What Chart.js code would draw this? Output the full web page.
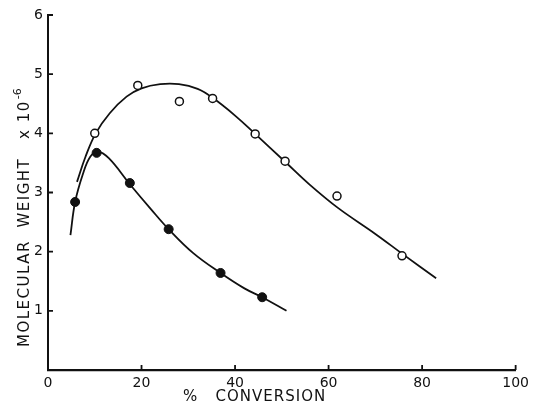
<!DOCTYPE html>
<html><head><meta charset="utf-8">
<script src="https://cdn.jsdelivr.net/npm/chart.js@4/dist/chart.umd.min.js"></script>
<style>html,body{margin:0;padding:0;background:#fff}#wrap{width:534px;height:409px}</style>
</head><body><div id="wrap"><canvas id="c" width="534" height="409"></canvas></div>
<script>
// Open circles (measured points)
const openConversion = [10.0, 19.2, 28.1, 35.2, 44.3, 50.7, 61.8, 75.7];
const openMW = [4.00, 4.81, 4.54, 4.59, 3.99, 3.53, 2.94, 1.93];
// Filled circles (measured points)
const filledConversion = [5.8, 10.4, 17.5, 25.8, 36.9, 45.8];
const filledMW = [2.84, 3.67, 3.16, 2.38, 1.64, 1.23];
// Smooth drawn curves
const openCurveX = [6.2, 8, 10.2, 13.2, 16.8, 20, 24, 28, 32, 35.2, 40, 44.3, 50.7, 56, 62, 70, 76, 83];
const openCurveY = [3.18, 3.60, 4.00, 4.34, 4.62, 4.76, 4.83, 4.83, 4.75, 4.60, 4.30, 3.99, 3.52, 3.13, 2.74, 2.30, 1.95, 1.55];
const filledCurveX = [4.8, 5.8, 7.5, 9, 10.6, 13, 17.5, 22, 25.8, 31, 36.9, 42, 45.8, 51];
const filledCurveY = [2.28, 2.84, 3.32, 3.60, 3.69, 3.58, 3.14, 2.72, 2.38, 1.98, 1.64, 1.38, 1.23, 1.00];
// Axis ticks
const xTicks = [0, 20, 40, 60, 80, 100];
const yTicks = [1, 2, 3, 4, 5, 6];
const xTitle = '%   CONVERSION';
const yTitleMain = 'MOLECULAR  WEIGHT   x 10';
const yTitleSup = '-6';

const toPts = (xs, ys) => xs.map((x, i) => ({x: x, y: ys[i]}));

const FONT = '"DejaVu Sans", sans-serif';

const decor = {
  id: 'decor',
  afterDraw(chart) {
    const ctx = chart.ctx;
    const xs = chart.scales.x, ys = chart.scales.y;
    const a = chart.chartArea;
    ctx.save();
    ctx.strokeStyle = '#111';
    ctx.lineWidth = 1.8;
    ctx.beginPath();
    xTicks.forEach(v => {
      if (v === 0) return;
      const px = xs.getPixelForValue(v);
      ctx.moveTo(px, a.bottom);
      ctx.lineTo(px, a.bottom - 5);
    });
    yTicks.forEach(v => {
      const py = ys.getPixelForValue(v);
      ctx.moveTo(a.left, py);
      ctx.lineTo(a.left + 5, py);
    });
    ctx.stroke();
    // x title
    ctx.fillStyle = '#111';
    ctx.font = '15px ' + FONT;
    ctx.letterSpacing = '1px';
    ctx.textAlign = 'left';
    ctx.textBaseline = 'middle';
    ctx.fillText(xTitle, 183, 397);
    // y title rotated
    ctx.translate(25, 347);
    ctx.rotate(-Math.PI / 2);
    ctx.font = '15px ' + FONT;
    ctx.letterSpacing = '1.5px';
    ctx.fillText(yTitleMain, 0, 0);
    const w = ctx.measureText(yTitleMain).width;
    ctx.font = '11px ' + FONT;
    ctx.letterSpacing = '0px';
    ctx.fillText(yTitleSup, w + 1, -7);
    ctx.restore();
  }
};

new Chart(document.getElementById('c'), {
  type: 'scatter',
  data: {
    datasets: [
      {data: toPts(openConversion, openMW), pointRadius: 4, pointHoverRadius: 4,
       backgroundColor: '#fff', borderColor: '#111', borderWidth: 1.5, order: 0},
      {data: toPts(filledConversion, filledMW), pointRadius: 4.5, pointHoverRadius: 4.5,
       backgroundColor: '#111', borderColor: '#111', borderWidth: 1, order: 0},
      {type: 'line', data: toPts(openCurveX, openCurveY), showLine: true, pointRadius: 0,
       borderColor: '#111', borderWidth: 1.8, tension: 0.4, fill: false, order: 1},
      {type: 'line', data: toPts(filledCurveX, filledCurveY), showLine: true, pointRadius: 0,
       borderColor: '#111', borderWidth: 1.8, tension: 0.4, fill: false, order: 1}
    ]
  },
  options: {
    responsive: false,
    animation: false,
    devicePixelRatio: 1,
    layout: {padding: {top: 15, right: 17, left: 0, bottom: 0}},
    plugins: {legend: {display: false}, tooltip: {enabled: false}},
    scales: {
      x: {
        type: 'linear', min: 0, max: 100,
        afterFit(s) { s.height = 39; },
        afterBuildTicks(s) { s.ticks = xTicks.map(v => ({value: v})); },
        grid: {display: true, drawOnChartArea: false, drawTicks: false},
        border: {display: true, color: '#111', width: 2.2},
        ticks: {padding: 5, color: '#111', font: {family: FONT, size: 14}, maxRotation: 0}
      },
      y: {
        type: 'linear', min: 0, max: 6,
        afterFit(s) { s.width = 48; },
        afterBuildTicks(s) { s.ticks = yTicks.map(v => ({value: v})); },
        grid: {display: true, drawOnChartArea: false, drawTicks: false},
        border: {display: true, color: '#111', width: 2},
        ticks: {padding: 5, color: '#111', font: {family: FONT, size: 14}}
      }
    }
  },
  plugins: [decor]
});
</script>
</body></html>
